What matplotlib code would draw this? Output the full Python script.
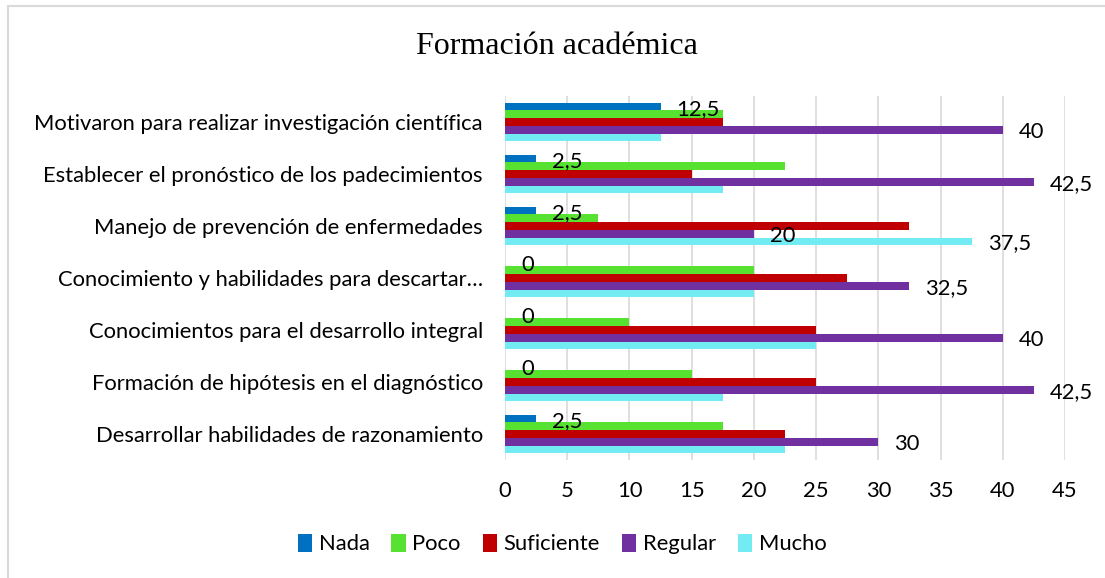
import numpy as np
import matplotlib
matplotlib.use("Agg")
import matplotlib.pyplot as plt
from matplotlib.patches import Rectangle

# categories from bottom to top
categorias = [
    "Desarrollar habilidades de razonamiento",
    "Formación de hipótesis en el diagnóstico",
    "Conocimientos para el desarrollo integral",
    "Conocimiento y habilidades para descartar…",
    "Manejo de prevención de enfermedades",
    "Establecer el pronóstico de los padecimientos",
    "Motivaron para realizar investigación científica",
]
nada = [2.5, 0, 0, 0, 2.5, 2.5, 12.5]
poco = [17.5, 15, 10, 20, 7.5, 22.5, 17.5]
suficiente = [22.5, 25, 25, 27.5, 32.5, 15, 17.5]
regular = [30, 42.5, 40, 32.5, 20, 42.5, 40]
mucho = [22.5, 17.5, 25, 20, 37.5, 17.5, 12.5]

series = ["Nada", "Poco", "Suficiente", "Regular", "Mucho"]
valores = [nada, poco, suficiente, regular, mucho]
colores = ["#0070C0", "#57E232", "#C00000", "#7030A0", "#72ECF2"]
# which series get data labels (Mucho only on one category)
etiquetar = {"Nada": range(7), "Regular": range(7), "Mucho": [4]}

plt.rcParams["font.family"] = ["Lato", "DejaVu Sans"]
fs = 15.8

fig = plt.figure(figsize=(11.05, 5.78), dpi=100)
W, H = 1105, 578
ax = fig.add_axes([505 / W, 1 - 460 / H, 560 / W, 364 / H])

fig.patches.append(Rectangle((8 / W, -0.05), 1.1, 1 - 6 / H + 0.05,
                             transform=fig.transFigure, fill=False,
                             edgecolor="#D9D9D9", linewidth=1.5))

y = np.arange(len(categorias))
h = 0.148
for j, (nombre, vals, col) in enumerate(zip(series, valores, colores)):
    pos = y + (2 - j) * h
    ax.barh(pos, vals, height=h, color=col, label=nombre, zorder=3)
    if nombre in etiquetar:
        for i in etiquetar[nombre]:
            txt = ("%g" % vals[i]).replace(".", ",")
            ax.annotate(txt, (vals[i], pos[i]), xytext=(11.5, -1.5),
                        textcoords="offset points", ha="left", va="center",
                        fontsize=fs, color="#000000", zorder=4)

ax.set_xlim(0, 45)
ax.set_ylim(-0.5, 6.5)
ax.set_xticks(np.arange(0, 46, 5))
ax.set_yticks(y)
ax.set_yticklabels(categorias, fontsize=fs)
ax.tick_params(axis="x", labelsize=fs, length=0, pad=15)
ax.tick_params(axis="y", length=0, pad=16)
ax.grid(axis="x", color="#D9D9D9", linewidth=1.2, zorder=0)
for s in ax.spines.values():
    s.set_visible(False)

fig.text(557 / W, 1 - 47 / H, "Formación académica", ha="center", va="center",
         fontsize=23, family="Liberation Serif")

fig.legend(loc="center", bbox_to_anchor=(562 / W, 1 - 544 / H), ncol=5,
           frameon=False, fontsize=fs, handlelength=0.65, handleheight=0.9,
           handletextpad=0.3, columnspacing=1.0)

fig.savefig("out.png", dpi=100)
